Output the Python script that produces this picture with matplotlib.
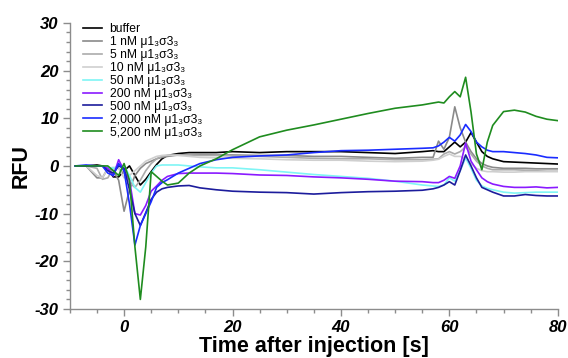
import matplotlib
matplotlib.use("Agg")
import matplotlib.pyplot as plt
from matplotlib.ticker import MultipleLocator

plt.rcParams['font.family'] = ['Liberation Sans', 'DejaVu Sans']

# time after injection, s
t = [-9, -7, -5, -4, -3, -2, -1, 0, 1, 2, 3, 4, 5, 6, 7, 8, 10, 12, 14, 17,
     20, 25, 30, 35, 40, 45, 50, 55, 57, 58, 59, 60, 61, 62, 63, 64, 65, 66,
     67, 68, 70, 72, 74, 76, 78, 80]

buffer = [0, 0, 0.2, 0, -0.5, -2.3, -2.3, -1, 0, -2, -4, -2.8, -1.2, 0.3, 1.5, 2.2,
          2.6, 2.8, 2.8, 2.8, 3.0, 2.8, 3.0, 3.0, 3.0, 2.8, 2.6, 3.0, 3.2, 3.0,
          3.0, 4.0, 5.0, 4.0, 5.0, 7.0, 5.0, 3.0, 2.0, 1.5, 0.9, 0.8, 0.7, 0.6, 0.5, 0.4]
nm1 = [0, 0, -2.5, -2.5, -0.5, -1, -3, -9.5, -5, -2, -0.5, 0.5, 1, 1.5, 1.8, 2,
       2.3, 2.4, 2.4, 2.3, 2.3, 2.2, 2.2, 2.0, 2.0, 1.8, 1.6, 1.8, 1.8, 5.2,
       3.5, 6.0, 12.4, 8.0, 5.0, 3.0, 1.5, 0.5, 0.0, -0.3, -0.5, -0.5, -0.5, -0.6, -0.6, -0.6]
nm5 = [0, 0, -0.5, -2.8, -2.5, -0.5, -0.5, -1.5, -3.5, -4.5, -3, -1, 0.5, 1.5, 2, 2.2,
       2.3, 2.3, 2.2, 2.2, 2.1, 2.0, 1.8, 1.6, 1.5, 1.5, 1.3, 1.3, 1.4, 1.5,
       2.5, 3.0, 2.5, 3.0, 4.0, 2.5, 1.0, 0.0, -0.5, -0.8, -0.8, -0.8, -0.9, -0.9, -0.8, -0.8]
nm10 = [0, 0, -2, -2.5, -0.5, -0.3, -0.5, -2.5, -2, -1, 0, 1, 1.5, 2, 2.2, 2.3,
        2.2, 2.0, 1.8, 1.7, 1.6, 1.5, 1.3, 1.2, 1.2, 1.0, 0.9, 1.0, 1.2, 1.4,
        2.0, 2.5, 2.0, 2.0, 1.5, 0.5, -0.5, -1.0, -1.2, -1.2, -1.3, -1.3, -1.2, -1.2, -1.2, -1.2]
nm50 = [0, 0, 0, 0, -0.3, -0.5, 0, 0, -2, -4.5, -5.5, -3.5, -1.5, 0, 0.2, 0.2,
        0.2, 0, -0.2, -0.4, -0.4, -0.8, -1.3, -1.8, -2.2, -2.6, -3.2, -4.0, -4.2, -4.3,
        -4.0, -2.5, -3.2, -1.0, 1.7, -0.5, -3.0, -4.2, -4.7, -5.0, -5.5, -5.7, -5.6, -5.5, -5.5, -5.5]
nm200 = [0, 0, 0, 0, -0.5, -2.1, 1.3, -1, -3, -10, -10.3, -8.3, -5.3, -4.2, -3, -2.2,
         -1.6, -1.5, -1.5, -1.5, -1.6, -1.9, -2.0, -2.3, -2.5, -2.8, -3.2, -3.3, -3.5, -3.5,
         -3.0, -2.2, -2.6, 0.0, 4.8, 1.0, -0.8, -2.5, -3.3, -3.8, -4.3, -4.5, -4.5, -4.4, -4.6, -4.5]
nm500 = [0, 0, 0, 0, -1, -1.5, 0, -0.5, -5, -10, -12.5, -9.8, -7, -5.5, -4.8, -4.5,
         -4.2, -4.1, -4.6, -5.0, -5.3, -5.5, -5.6, -5.9, -5.6, -5.4, -5.3, -5.1, -4.8, -4.5,
         -4.0, -3.3, -4.0, -1.0, 2.3, 0.0, -2.5, -4.5, -5.0, -5.5, -6.3, -6.3, -6.0, -6.2, -6.3, -6.3]
nm2000 = [0, 0.2, 0, 0, -1.5, -2, 0.5, -1, -8, -16.6, -12.5, -10, -7.5, -4.5, -3.5, -2.9,
          -1.5, -0.5, 0.5, 1.3, 1.8, 2.1, 2.3, 2.8, 3.2, 3.3, 3.5, 3.7, 3.8, 4.2,
          5.0, 6.0, 5.2, 6.5, 8.7, 7.2, 5.0, 4.0, 3.3, 3.0, 3.0, 2.8, 2.6, 2.3, 1.8, 1.7]
nm5200 = [0, 0, 0, 0, 0, -1, -2, 0.5, -3, -17, -28, -17, -1.2, -2.2, -3.2, -4,
          -3.6, -1.5, 0, 1.5, 3.4, 6.1, 7.5, 8.6, 9.8, 11.0, 12.1, 12.8, 13.2, 13.4,
          13.2, 14.5, 15.6, 14.5, 18.6, 11.3, 2.5, -0.8, 5.0, 8.5, 11.4, 11.7, 11.3, 10.4, 9.8, 9.5]

labels = ["buffer",
          "1 nM μ1₃σ3₃",
          "5 nM μ1₃σ3₃",
          "10 nM μ1₃σ3₃",
          "50 nM μ1₃σ3₃",
          "200 nM μ1₃σ3₃",
          "500 nM μ1₃σ3₃",
          "2,000 nM μ1₃σ3₃",
          "5,200 nM μ1₃σ3₃"]
series = [buffer, nm1, nm5, nm10, nm50, nm200, nm500, nm2000, nm5200]
colors = ["#000000", "#8a8a8a", "#ababab", "#cfcfcf", "#7ff5f5",
          "#8a1aff", "#1c1c9c", "#1a2cff", "#1f8c1f"]

fig = plt.figure(figsize=(5.68, 3.58), dpi=100)
ax = fig.add_axes([0.123, 0.137, 0.859, 0.799])

for y, c, lab in zip(series, colors, labels):
    ax.plot(t, y, color=c, lw=1.2, label=lab)

ax.set_xlim(-10, 80)
ax.set_ylim(-30, 30)
ax.xaxis.set_minor_locator(MultipleLocator(5))
ax.yaxis.set_minor_locator(MultipleLocator(2))
tick_font = dict(fontsize=12, fontweight="bold", fontstyle="italic")
ax.set_xticks([0, 20, 40, 60, 80], ["0", "20", "40", "60", "80"], **tick_font)
ax.set_yticks([-30, -20, -10, 0, 10, 20, 30],
              ["-30", "-20", "-10", "0", "10", "20", "30"], **tick_font)

for s in ["top", "right"]:
    ax.spines[s].set_visible(False)
for s in ["left", "bottom"]:
    ax.spines[s].set_color("#8c8c8c")
    ax.spines[s].set_linewidth(1.0)
ax.tick_params(which="major", length=5, color="#8c8c8c", width=1.0, pad=3)
ax.tick_params(which="minor", length=3, color="#8c8c8c", width=1.0)

ax.set_xlabel("Time after injection [s]", fontsize=15.5, fontweight="bold", labelpad=1)
ax.set_ylabel("RFU", fontsize=15.5, fontweight="bold", labelpad=2)

ax.legend(loc="upper left", bbox_to_anchor=(0.027, 1.0), frameon=False,
          fontsize=8.7, handlelength=1.6, handletextpad=0.6, labelspacing=0.08,
          borderpad=0, borderaxespad=0)

fig.savefig("out.png", dpi=100)
